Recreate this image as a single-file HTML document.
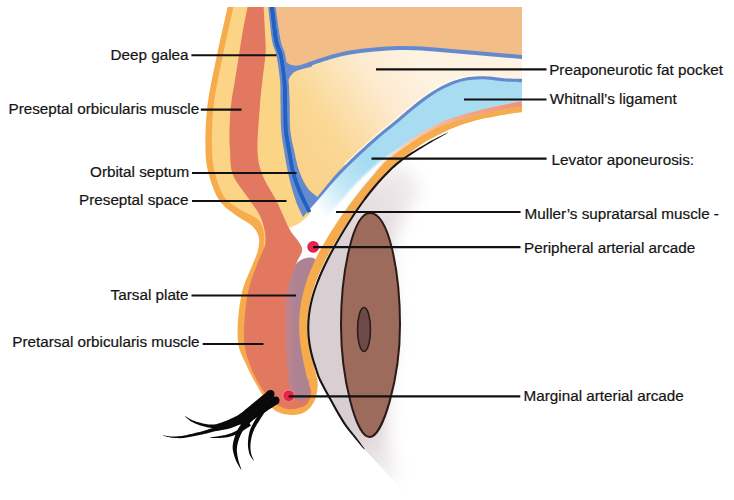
<!DOCTYPE html>
<html><head><meta charset="utf-8"><style>
html,body{margin:0;padding:0;background:#fff;width:734px;height:500px;overflow:hidden}
body{position:relative;font-family:"Liberation Sans",sans-serif}
text{font-family:"Liberation Sans",sans-serif;font-size:15.25px;fill:#141414;stroke:#141414;stroke-width:0.2px}
</style></head><body>
<svg width="734" height="500" viewBox="0 0 734 500" style="position:absolute;left:0;top:0">
<defs>
<clipPath id="cTop"><rect x="0" y="7" width="734" height="493"/></clipPath>
<linearGradient id="gFat" x1="300" y1="175" x2="430" y2="80" gradientUnits="userSpaceOnUse"><stop offset="0" stop-color="#FAD28A"/><stop offset="0.3" stop-color="#FAD793"/><stop offset="0.72" stop-color="#FDEBD0"/><stop offset="1" stop-color="#FEF2E2"/></linearGradient>
<linearGradient id="gWhit" x1="320" y1="215" x2="400" y2="145" gradientUnits="userSpaceOnUse"><stop offset="0" stop-color="#FFFFFF"/><stop offset="0.35" stop-color="#C2E7F5"/><stop offset="0.65" stop-color="#A6DCF1"/><stop offset="1" stop-color="#A8DCF1"/></linearGradient>
<linearGradient id="gEye" x1="305" y1="0" x2="440" y2="0" gradientUnits="userSpaceOnUse"><stop offset="0" stop-color="#D3CACE"/><stop offset="0.5" stop-color="#D9D1D5"/><stop offset="0.75" stop-color="#E9E4E6"/><stop offset="1" stop-color="#FFFFFF"/></linearGradient>
<linearGradient id="gEyeV" x1="430" y1="160" x2="340" y2="260" gradientUnits="userSpaceOnUse"><stop offset="0" stop-color="#F6F3F4"/><stop offset="1" stop-color="#D9CED2"/></linearGradient>
<linearGradient id="gPink" x1="522" y1="100" x2="380" y2="170" gradientUnits="userSpaceOnUse"><stop offset="0" stop-color="#F4906E"/><stop offset="0.4" stop-color="#F5A88C"/><stop offset="1" stop-color="#FBE2D6"/></linearGradient>
<linearGradient id="gFade" x1="350" y1="430" x2="395" y2="490" gradientUnits="userSpaceOnUse"><stop offset="0" stop-color="#FFFFFF" stop-opacity="0"/><stop offset="1" stop-color="#FFFFFF" stop-opacity="0.9"/></linearGradient>
<linearGradient id="gMauve" x1="283" y1="0" x2="297" y2="0" gradientUnits="userSpaceOnUse"><stop offset="0" stop-color="#D97C72"/><stop offset="0.5" stop-color="#B98590"/><stop offset="1" stop-color="#AD8293"/></linearGradient>
<filter id="fSoft3" x="-30%" y="-20%" width="160%" height="140%"><feGaussianBlur stdDeviation="2"/></filter>
<filter id="fSoft2" x="-20%" y="-20%" width="140%" height="140%"><feGaussianBlur stdDeviation="0.8"/></filter>
<filter id="fSoft" x="-20%" y="-20%" width="140%" height="140%"><feGaussianBlur stdDeviation="1.2"/></filter>
<filter id="fBlur" x="-50%" y="-50%" width="200%" height="200%"><feGaussianBlur stdDeviation="8"/></filter>
<clipPath id="cEye"><path d="M448.0 132.6 C444.7 134.4 435.7 138.8 428.0 143.4 C420.3 148.0 408.8 154.7 401.7 160.0 C394.6 165.3 390.2 170.0 385.2 175.0 C380.2 180.0 376.0 185.0 371.9 190.0 C367.8 195.0 364.1 200.0 360.5 205.0 C356.9 210.0 353.6 215.0 350.4 220.0 C347.2 225.0 344.1 230.0 341.1 235.0 C338.1 240.0 335.3 245.0 332.6 250.0 C329.9 255.0 327.3 260.0 324.9 265.0 C322.5 270.0 320.3 275.0 318.3 280.0 C316.3 285.0 314.5 290.0 313.1 295.0 C311.7 300.0 310.5 305.0 309.7 310.0 C308.9 315.0 308.4 320.0 308.3 325.0 C308.2 330.0 308.4 335.0 309.0 340.0 C309.6 345.0 310.6 350.0 311.8 355.0 C313.0 360.0 315.0 365.8 316.4 370.0 C317.8 374.2 317.7 375.0 320.1 380.0 C322.5 385.0 326.8 392.9 330.8 400.0 C334.8 407.1 339.8 416.4 344.0 422.8 C348.2 429.2 352.6 434.0 356.0 438.4 C359.4 442.8 363.0 447.4 364.4 449.2 L364.4 449.2 L405 492 L734 500 L734 112 L522 112 L460 124.3 Z"/></clipPath>
<radialGradient id="gDot" cx="0.5" cy="0.5" r="0.5"><stop offset="0" stop-color="#F02656"/><stop offset="0.7" stop-color="#EA2250"/><stop offset="1" stop-color="#D81A46"/></radialGradient>
</defs>
<g clip-path="url(#cTop)">
<path d="M229.2 0.0 C227.2 9.2 220.6 37.5 217.0 55.0 C213.4 72.5 209.4 89.2 207.5 105.0 C205.6 120.8 205.2 138.3 205.5 150.0 C205.8 161.7 206.8 166.7 209.0 175.0 C211.2 183.3 214.6 193.3 219.0 200.0 C223.4 206.7 230.2 210.8 235.5 215.0 C240.8 219.2 247.2 221.5 251.0 225.0 C254.8 228.5 257.3 231.8 258.5 236.0 C259.7 240.2 259.1 245.0 258.0 250.0 C256.9 255.0 254.6 259.3 252.0 266.0 C249.4 272.7 244.8 281.0 242.5 290.0 C240.2 299.0 238.7 310.8 238.0 320.0 C237.3 329.2 237.3 338.0 238.5 345.0 C239.7 352.0 242.2 355.7 245.0 362.0 C247.8 368.3 251.0 375.3 255.5 383.0 C260.0 390.7 266.4 402.7 272.0 408.0 C277.6 413.3 283.5 414.1 289.0 414.8 C294.5 415.5 300.8 414.3 305.0 412.0 C309.2 409.7 312.4 405.0 314.5 401.0 C316.6 397.0 317.1 391.5 317.6 388.0 C318.1 384.5 317.4 381.3 317.4 380.0 C316.9 378.3 315.8 374.2 314.7 370.0 C313.6 365.8 312.0 360.0 310.9 355.0 C309.8 350.0 308.8 345.0 308.2 340.0 C307.6 335.0 307.2 330.0 307.2 325.0 C307.2 320.0 307.6 315.0 308.3 310.0 C309.0 305.0 310.1 300.0 311.4 295.0 C312.7 290.0 314.4 285.0 316.3 280.0 C318.2 275.0 320.5 270.0 322.9 265.0 C325.3 260.0 327.9 255.0 330.6 250.0 C333.4 245.0 336.3 240.0 339.4 235.0 C342.5 230.0 345.7 225.0 349.0 220.0 C352.3 215.0 355.7 210.0 359.3 205.0 C362.9 200.0 366.8 195.0 370.9 190.0 C375.0 185.0 379.2 180.0 384.1 175.0 C389.0 170.0 395.0 164.5 400.3 160.0 C405.6 155.5 411.1 151.5 416.0 148.0 C420.9 144.5 425.2 141.9 430.0 139.1 C434.8 136.3 439.2 134.0 445.0 131.4 C450.8 128.8 458.3 125.8 465.0 123.6 C471.7 121.4 478.3 119.6 485.0 118.1 C491.7 116.6 498.8 115.4 505.0 114.4 C511.2 113.4 519.2 112.5 522.0 112.1 L522 0 Z" fill="#F6AC4C"/>
<path d="M235.0 0.0 C233.0 9.2 226.6 37.5 223.0 55.0 C219.4 72.5 215.5 89.2 213.7 105.0 C211.9 120.8 211.7 138.3 212.0 150.0 C212.3 161.7 213.3 167.0 215.5 175.0 C217.7 183.0 220.8 192.2 225.0 198.0 C229.2 203.8 235.4 206.3 241.0 210.0 C246.6 213.7 254.7 216.2 258.5 220.0 C262.3 223.8 263.1 228.0 264.0 233.0 C264.9 238.0 264.0 247.2 264.0 250.0 L300 262 L340 200 L522 0 Z" fill="#FBD485"/>
<path d="M310 214 C303 221 296 227 284 229 L282 300 L300 300  C303.4 292.0 305.4 284.5 307.1 279.5 C308.9 274.5 310.9 269.5 313.2 264.5 C315.4 259.5 317.9 254.5 320.6 249.5 C323.3 244.5 326.2 239.5 329.3 234.5 C332.4 229.5 335.6 224.5 339.0 219.5 C342.4 214.5 346.0 209.5 349.7 204.5 C353.4 199.5 359.4 192.0 361.3 189.5 L355 160 L320 200 Z" fill="#FFFFFF"/>
<path d="M270 0 L522 0 L522 57  C508.3 55.8 460.3 51.5 440.0 50.0 C419.7 48.5 415.0 47.6 400.0 48.0 C385.0 48.4 363.3 50.4 350.0 52.5 C336.7 54.6 328.3 58.0 320.0 60.5 C311.7 63.0 305.7 65.9 300.0 67.5 C294.3 69.1 288.3 69.6 286.0 70.0 L280 50 Z" fill="#F3BD88"/>
<path d="M286.0 70.0 C288.3 69.6 294.3 69.1 300.0 67.5 C305.7 65.9 311.7 63.0 320.0 60.5 C328.3 58.0 336.7 54.6 350.0 52.5 C363.3 50.4 385.0 48.4 400.0 48.0 C415.0 47.6 419.7 48.5 440.0 50.0 C460.3 51.5 508.3 55.8 522.0 57.0 L522 80.5  C519.3 80.5 511.3 80.4 506.0 80.0 C500.7 79.6 494.7 78.6 490.0 78.2 C485.3 77.8 482.0 77.7 478.0 77.8 C474.0 77.9 470.0 78.2 466.0 79.0 C462.0 79.8 458.0 80.8 454.0 82.3 C450.0 83.8 446.0 85.6 442.0 87.7 C438.0 89.8 434.0 92.2 430.0 94.9 C426.0 97.6 422.0 100.5 418.0 103.6 C414.0 106.7 410.0 110.1 406.0 113.5 C402.0 116.9 398.0 120.5 394.0 123.8 C390.0 127.1 386.0 130.1 382.0 133.4 C378.0 136.7 374.0 140.2 370.0 143.8 C366.0 147.4 362.0 151.0 358.0 154.8 C354.0 158.6 350.0 162.4 346.0 166.4 C342.0 170.4 338.0 174.5 334.0 179.0 C330.0 183.5 326.0 188.8 322.0 193.5 C318.0 198.2 312.0 204.8 310.0 207.0 L290 150 L284 64 Z" fill="url(#gFat)"/>
<path d="M310.0 207.0 C312.0 204.8 318.0 198.2 322.0 193.5 C326.0 188.8 330.0 183.5 334.0 179.0 C338.0 174.5 342.0 170.4 346.0 166.4 C350.0 162.4 354.0 158.6 358.0 154.8 C362.0 151.0 366.0 147.4 370.0 143.8 C374.0 140.2 378.0 136.7 382.0 133.4 C386.0 130.1 390.0 127.1 394.0 123.8 C398.0 120.5 402.0 116.9 406.0 113.5 C410.0 110.1 414.0 106.7 418.0 103.6 C422.0 100.5 426.0 97.6 430.0 94.9 C434.0 92.2 438.0 89.8 442.0 87.7 C446.0 85.6 450.0 83.8 454.0 82.3 C458.0 80.8 462.0 79.8 466.0 79.0 C470.0 78.2 474.0 77.9 478.0 77.8 C482.0 77.7 485.3 77.8 490.0 78.2 C494.7 78.6 500.7 79.6 506.0 80.0 C511.3 80.4 519.3 80.5 522.0 80.6 L522 106.2  C519.2 106.8 511.2 108.3 505.0 109.5 C498.8 110.7 491.7 111.9 485.0 113.4 C478.3 114.9 471.7 116.5 465.0 118.4 C458.3 120.3 450.8 122.4 445.0 124.6 C439.2 126.8 434.8 129.0 430.0 131.5 C425.2 134.0 423.0 134.8 416.0 139.5 C409.0 144.2 395.0 153.7 388.0 159.5 C381.0 165.3 378.4 169.5 374.0 174.5 C369.6 179.5 365.4 184.5 361.3 189.5 C357.2 194.5 353.4 199.5 349.7 204.5 C346.0 209.5 342.4 214.5 339.0 219.5 C335.6 224.5 332.4 229.5 329.3 234.5 C326.2 239.5 322.1 247.0 320.6 249.5 L310 225 Z" fill="url(#gWhit)"/>
<path d="M445.00 124.60 L444.27 124.93 L443.36 125.34 L442.28 125.81 L441.07 126.35 L439.76 126.93 L438.38 127.55 L436.94 128.20 L435.48 128.86 L434.03 129.54 L432.62 130.21 L431.26 130.86 L430.00 131.50 L428.84 132.09 L427.77 132.63 L426.76 133.14 L425.78 133.64 L424.80 134.15 L423.81 134.68 L422.78 135.26 L421.67 135.90 L420.46 136.63 L419.13 137.46 L417.65 138.41 L416.00 139.50 L414.11 140.76 L411.98 142.20 L409.66 143.77 L407.19 145.46 L404.62 147.24 L402.00 149.06 L399.38 150.91 L396.81 152.76 L394.34 154.57 L392.02 156.32 L389.89 157.97 L388.00 159.50 L386.34 160.93 L384.84 162.29 L383.49 163.60 L382.25 164.87 L381.11 166.10 L380.04 167.31 L379.03 168.50 L378.05 169.69 L377.08 170.87 L376.10 172.06 L375.08 173.27 L374.00 174.50 L372.89 175.75 L371.80 177.00 L370.71 178.25 L369.63 179.50 L368.56 180.75 L367.50 182.00 L366.45 183.25 L365.40 184.50 L364.37 185.75 L363.34 187.00 L362.32 188.25 L361.30 189.50 L360.29 190.75 L359.29 192.00 L358.30 193.25 L357.32 194.50 L356.34 195.75 L355.38 197.00 L354.41 198.25 L353.46 199.50 L352.51 200.75 L351.57 202.00 L350.63 203.25 L349.70 204.50 L348.77 205.75 L347.85 207.00 L346.94 208.25 L346.03 209.50 L345.13 210.75 L344.23 212.00 L343.34 213.25 L342.46 214.50 L341.58 215.75 L340.72 217.00 L339.85 218.25 L339.00 219.50 L338.15 220.75 L337.31 222.00 L336.48 223.25 L335.66 224.50 L334.84 225.75 L334.02 227.00 L333.22 228.25 L332.42 229.50 L331.63 230.75 L330.85 232.00 L330.07 233.25 L329.30 234.50 L328.51 235.80 L327.69 237.17 L326.85 238.60 L326.00 240.06 L325.16 241.51 L324.34 242.94 L323.56 244.31 L322.82 245.61 L322.14 246.80 L321.53 247.87 L321.02 248.78 L320.60 249.50 L307.60 242.02 L308.15 241.40 L308.79 240.61 L309.54 239.64 L310.36 238.52 L311.25 237.29 L312.20 235.98 L313.18 234.61 L314.18 233.20 L315.20 231.78 L316.22 230.38 L317.23 229.01 L318.21 227.72 L319.16 226.50 L320.10 225.29 L321.06 224.09 L322.01 222.88 L322.98 221.68 L323.95 220.48 L324.93 219.29 L325.91 218.09 L326.90 216.89 L327.89 215.70 L328.90 214.51 L329.90 213.31 L330.92 212.12 L331.94 210.93 L332.97 209.74 L334.01 208.56 L335.05 207.37 L336.09 206.19 L337.14 205.01 L338.20 203.83 L339.26 202.65 L340.33 201.48 L341.40 200.30 L342.48 199.13 L343.49 197.91 L344.51 196.69 L345.53 195.47 L346.56 194.25 L347.60 193.03 L348.65 191.81 L349.70 190.58 L350.76 189.36 L351.83 188.14 L352.90 186.91 L353.99 185.69 L355.08 184.47 L356.24 183.30 L357.41 182.14 L358.59 180.97 L359.77 179.81 L360.96 178.65 L362.15 177.48 L363.36 176.32 L364.57 175.16 L365.79 173.99 L367.03 172.83 L368.27 171.67 L369.49 170.54 L370.71 169.52 L371.88 168.53 L373.03 167.53 L374.20 166.50 L375.39 165.45 L376.64 164.37 L377.95 163.26 L379.35 162.12 L380.84 160.94 L382.45 159.74 L384.19 158.49 L386.08 157.19 L388.15 155.78 L390.45 154.26 L392.93 152.66 L395.54 151.01 L398.25 149.32 L400.99 147.63 L403.74 145.97 L406.43 144.36 L409.02 142.84 L411.47 141.44 L413.72 140.17 L415.72 139.08 L417.40 138.03 L418.91 137.11 L420.26 136.31 L421.50 135.62 L422.63 135.01 L423.69 134.46 L424.71 133.96 L425.70 133.49 L426.70 133.03 L427.73 132.56 L428.82 132.05 L430.00 131.50 L431.26 130.86 L432.62 130.21 L434.03 129.54 L435.48 128.86 L436.94 128.20 L438.38 127.55 L439.76 126.93 L441.07 126.35 L442.28 125.81 L443.36 125.34 L444.27 124.93 L445.00 124.60 Z" fill="#FFFFFF" filter="url(#fSoft)"/>
<path d="M522.00 106.20 L521.19 106.36 L520.19 106.55 L519.02 106.78 L517.70 107.03 L516.27 107.31 L514.75 107.61 L513.16 107.92 L511.52 108.23 L509.86 108.56 L508.20 108.88 L506.58 109.19 L505.00 109.50 L503.44 109.80 L501.84 110.10 L500.21 110.41 L498.56 110.71 L496.88 111.03 L495.19 111.34 L493.49 111.67 L491.78 112.00 L490.07 112.33 L488.37 112.68 L486.68 113.03 L485.00 113.40 L483.33 113.77 L481.67 114.16 L480.00 114.54 L478.33 114.94 L476.67 115.34 L475.00 115.76 L473.33 116.18 L471.67 116.60 L470.00 117.04 L468.33 117.48 L466.67 117.94 L465.00 118.40 L463.32 118.87 L461.61 119.36 L459.88 119.85 L458.15 120.35 L456.41 120.86 L454.69 121.38 L452.98 121.91 L451.30 122.44 L449.65 122.97 L448.04 123.51 L446.49 124.06 L445.00 124.60 L443.57 125.15 L442.20 125.70 L440.88 126.25 L439.59 126.81 L438.34 127.37 L437.12 127.94 L435.93 128.51 L434.74 129.09 L433.56 129.68 L432.38 130.28 L431.20 130.88 L430.00 131.50 L428.84 132.09 L427.77 132.63 L426.76 133.14 L425.78 133.64 L424.80 134.15 L423.81 134.68 L422.78 135.26 L421.67 135.90 L420.46 136.63 L419.13 137.46 L417.65 138.41 L416.00 139.50 L414.11 140.76 L411.98 142.20 L409.66 143.77 L407.19 145.46 L404.62 147.24 L402.00 149.06 L399.38 150.91 L396.81 152.76 L394.34 154.57 L392.02 156.32 L389.89 157.97 L388.00 159.50 L386.30 160.97 L384.69 162.46 L383.19 163.95 L381.78 165.43 L380.47 166.86 L379.25 168.25 L378.13 169.57 L377.11 170.80 L376.19 171.92 L375.36 172.93 L374.63 173.79 L374.00 174.50 L373.63 174.17 L374.16 173.38 L374.78 172.45 L375.51 171.37 L376.34 170.16 L377.27 168.84 L378.30 167.43 L379.44 165.95 L380.68 164.40 L382.03 162.81 L383.48 161.20 L385.05 159.58 L386.72 157.97 L388.59 156.34 L390.70 154.59 L393.00 152.76 L395.44 150.87 L397.98 148.95 L400.56 147.02 L403.14 145.11 L405.68 143.27 L408.11 141.50 L410.40 139.85 L412.49 138.34 L414.34 137.00 L416.01 135.88 L417.51 134.90 L418.87 134.03 L420.10 133.26 L421.25 132.58 L422.32 131.96 L423.35 131.39 L424.34 130.86 L425.33 130.33 L426.34 129.80 L427.40 129.25 L428.54 128.65 L429.72 127.99 L430.89 127.34 L432.06 126.69 L433.23 126.05 L434.42 125.41 L435.63 124.77 L436.87 124.14 L438.14 123.52 L439.44 122.89 L440.80 122.27 L442.20 121.66 L443.67 121.04 L445.21 120.46 L446.80 119.89 L448.44 119.32 L450.12 118.75 L451.82 118.20 L453.55 117.65 L455.30 117.11 L457.05 116.58 L458.79 116.05 L460.52 115.54 L462.24 115.04 L463.92 114.55 L465.60 114.04 L467.27 113.54 L468.95 113.05 L470.62 112.57 L472.30 112.10 L473.97 111.63 L475.65 111.18 L477.32 110.73 L479.00 110.29 L480.67 109.85 L482.35 109.43 L484.03 109.01 L485.73 108.61 L487.45 108.22 L489.17 107.85 L490.90 107.48 L492.62 107.12 L494.33 106.77 L496.02 106.43 L497.70 106.09 L499.35 105.76 L500.96 105.43 L502.54 105.11 L504.09 104.79 L505.66 104.47 L507.28 104.13 L508.93 103.79 L510.59 103.46 L512.23 103.12 L513.82 102.80 L515.34 102.48 L516.76 102.19 L518.07 101.92 L519.24 101.68 L520.24 101.47 L521.05 101.29 Z" fill="url(#gPink)"/>
<path d="M249.0 0.0 C248.0 5.0 244.7 20.8 243.0 30.0 C241.3 39.2 240.3 46.7 239.0 55.0 C237.7 63.3 236.3 71.7 235.0 80.0 C233.7 88.3 231.9 96.7 231.0 105.0 C230.1 113.3 229.7 122.5 229.5 130.0 C229.3 137.5 229.4 142.5 230.0 150.0 C230.6 157.5 229.7 166.7 233.0 175.0 C236.3 183.3 245.2 193.3 249.6 200.0 C254.0 206.7 257.0 210.0 259.5 215.0 C262.0 220.0 263.6 225.0 264.5 230.0 C265.4 235.0 266.1 239.7 265.0 245.0 C263.9 250.3 260.8 254.5 258.0 262.0 C255.2 269.5 250.8 280.3 248.5 290.0 C246.2 299.7 245.2 310.8 244.5 320.0 C243.8 329.2 243.6 337.5 244.5 345.0 C245.4 352.5 247.5 358.3 250.0 365.0 C252.5 371.7 255.8 379.0 259.5 385.0 C263.2 391.0 267.8 397.1 272.0 401.0 C276.2 404.9 281.2 407.2 285.0 408.5 C288.8 409.8 293.3 408.9 295.0 409.0 C296.8 408.3 303.3 407.3 306.0 405.0 C308.7 402.7 310.5 398.3 311.0 395.0 C311.5 391.7 311.5 390.8 309.0 385.0 C306.5 379.2 299.2 370.8 296.0 360.0 C292.8 349.2 290.7 333.3 290.0 320.0 C289.3 306.7 290.8 289.7 292.0 280.0 C293.2 270.3 295.3 267.3 297.0 262.0 C298.7 256.7 303.2 253.3 302.0 248.0 C300.8 242.7 293.2 235.5 290.0 230.0 C286.8 224.5 285.3 220.0 283.0 215.0 C280.7 210.0 279.4 206.7 276.0 200.0 C272.6 193.3 265.6 183.3 262.5 175.0 C259.4 166.7 257.9 161.7 257.5 150.0 C257.1 138.3 259.2 116.7 260.0 105.0 C260.8 93.3 261.6 88.3 262.5 80.0 C263.4 71.7 264.9 61.7 265.4 55.0 C265.9 48.3 265.8 49.2 265.4 40.0 C265.0 30.8 263.6 6.7 263.2 0.0 Z" fill="#E27860"/>
<path d="M309.0 257.5 C312.0 257.3 315.2 257.6 316.0 261.0 C316.8 264.4 315.5 272.3 314.0 278.0 C312.5 283.7 308.7 288.8 307.0 295.0 C305.3 301.2 304.5 306.7 304.0 315.0 C303.5 323.3 303.7 337.2 304.0 345.0 C304.3 352.8 305.2 355.5 306.0 362.0 C306.8 368.5 308.5 378.8 309.0 384.0 C309.5 389.2 310.0 390.2 309.0 393.0 C308.0 395.8 305.3 400.2 303.0 401.0 C300.7 401.8 297.3 400.7 295.0 398.0 C292.7 395.3 290.7 393.8 289.0 385.0 C287.3 376.2 285.8 355.8 285.0 345.0 C284.2 334.2 283.8 328.3 284.0 320.0 C284.2 311.7 284.7 302.7 286.0 295.0 C287.3 287.3 290.0 279.5 292.0 274.0 C294.0 268.5 295.2 264.8 298.0 262.0 C300.8 259.2 306.0 257.7 309.0 257.5 Z" fill="url(#gMauve)"/>
<path d="M317.4 380.0 C316.9 378.3 315.8 374.2 314.7 370.0 C313.6 365.8 312.0 360.0 310.9 355.0 C309.8 350.0 308.8 345.0 308.2 340.0 C307.6 335.0 307.2 330.0 307.2 325.0 C307.2 320.0 307.6 315.0 308.3 310.0 C309.0 305.0 310.1 300.0 311.4 295.0 C312.7 290.0 314.4 285.0 316.3 280.0 C318.2 275.0 320.5 270.0 322.9 265.0 C325.3 260.0 327.9 255.0 330.6 250.0 C333.4 245.0 336.3 240.0 339.4 235.0 C342.5 230.0 345.7 225.0 349.0 220.0 C352.3 215.0 355.7 210.0 359.3 205.0 C362.9 200.0 366.8 195.0 370.9 190.0 C375.0 185.0 379.2 180.0 384.1 175.0 C389.0 170.0 395.0 164.5 400.3 160.0 C405.6 155.5 411.1 151.5 416.0 148.0 C420.9 144.5 425.2 141.9 430.0 139.1 C434.8 136.3 439.2 134.0 445.0 131.4 C450.8 128.8 458.3 125.8 465.0 123.6 C471.7 121.4 478.3 119.6 485.0 118.1 C491.7 116.6 498.8 115.4 505.0 114.4 C511.2 113.4 519.2 112.5 522.0 112.1 L522 106.2  C519.2 106.8 511.2 108.3 505.0 109.5 C498.8 110.7 491.7 111.9 485.0 113.4 C478.3 114.9 471.7 116.5 465.0 118.4 C458.3 120.3 450.8 122.4 445.0 124.6 C439.2 126.8 434.8 129.0 430.0 131.5 C425.2 134.0 423.0 134.8 416.0 139.5 C409.0 144.2 395.0 153.7 388.0 159.5 C381.0 165.3 378.4 169.5 374.0 174.5 C369.6 179.5 365.4 184.5 361.3 189.5 C357.2 194.5 353.4 199.5 349.7 204.5 C346.0 209.5 342.4 214.5 339.0 219.5 C335.6 224.5 332.4 229.5 329.3 234.5 C326.2 239.5 323.3 244.5 320.6 249.5 C317.9 254.5 315.4 259.5 313.2 264.5 C310.9 269.5 308.9 274.5 307.1 279.5 C305.4 284.5 303.9 289.5 302.7 294.5 C301.5 299.5 300.6 304.5 300.0 309.5 C299.4 314.5 299.1 319.5 299.1 324.5 C299.1 329.5 299.3 334.5 299.8 339.5 C300.3 344.5 301.1 349.5 302.0 354.5 C302.9 359.5 304.2 365.3 305.1 369.5 C306.0 373.7 307.0 377.8 307.4 379.5 Z" fill="#F6AC4C"/>
<path d="M267.6 0.0 C268.3 6.7 270.5 30.8 272.0 40.0 C273.5 49.2 275.1 48.3 276.4 55.0 C277.7 61.7 279.3 72.2 280.0 80.0 C280.7 87.8 280.3 93.7 280.5 102.0 C280.7 110.3 280.6 122.0 281.2 130.0 C281.8 138.0 282.8 142.5 284.0 150.0 C285.2 157.5 286.6 166.7 288.5 175.0 C290.4 183.3 293.1 193.0 295.5 200.0 C297.9 207.0 301.8 214.2 303.0 217.0 C305.5 214.2 312.6 206.1 318.0 200.0 C323.4 193.9 330.3 185.5 335.2 180.1 C340.0 174.7 343.1 171.5 347.1 167.5 C351.1 163.5 355.1 159.7 359.1 156.0 C363.1 152.2 367.1 148.6 371.1 145.0 C375.1 141.4 379.0 138.0 383.0 134.6 C387.0 131.3 391.0 128.3 395.0 125.0 C399.0 121.7 403.0 118.1 407.0 114.7 C411.0 111.4 415.0 107.9 419.0 104.9 C423.0 101.8 426.9 98.9 430.9 96.2 C434.8 93.6 438.8 91.2 442.7 89.1 C446.7 87.0 450.6 85.2 454.5 83.8 C458.5 82.4 462.4 81.3 466.3 80.6 C470.2 79.8 474.1 79.5 478.1 79.4 C482.0 79.3 485.2 79.4 489.9 79.8 C494.5 80.2 500.5 81.2 505.9 81.6 C511.2 82.0 519.3 82.1 521.9 82.2 L522 78.7  C519.4 78.9 511.4 78.8 506.1 78.4 C500.8 78.0 494.8 77.0 490.1 76.6 C485.4 76.2 482.0 76.1 477.9 76.2 C473.9 76.3 469.8 76.7 465.7 77.4 C461.6 78.2 457.5 79.3 453.5 80.8 C449.4 82.3 445.3 84.2 441.3 86.3 C437.2 88.4 433.2 90.9 429.1 93.6 C425.1 96.2 421.0 99.2 417.0 102.3 C413.0 105.5 409.0 108.9 405.0 112.3 C401.0 115.6 397.0 119.3 393.0 122.6 C389.0 125.9 385.0 128.8 381.0 132.2 C377.0 135.5 372.9 139.0 368.9 142.6 C364.9 146.2 360.9 149.9 356.9 153.6 C352.9 157.4 348.9 161.2 344.9 165.3 C340.9 169.3 337.4 172.6 332.8 177.9 C328.3 183.2 320.0 193.8 317.4 197.0 C315.8 195.5 310.5 192.2 307.5 188.0 C304.5 183.8 301.8 178.3 299.5 172.0 C297.2 165.7 295.5 157.0 294.0 150.0 C292.5 143.0 291.0 138.0 290.3 130.0 C289.6 122.0 289.9 110.3 289.6 102.0 C289.3 93.7 289.2 87.8 288.5 80.0 C287.8 72.2 286.5 61.7 285.2 55.0 C283.9 48.3 282.3 49.2 280.5 40.0 C278.7 30.8 275.6 6.7 274.6 0.0 Z" fill="#6489CE"/>
<path d="M271.2 0.0 C272.0 6.7 274.4 30.8 276.0 40.0 C277.6 49.2 279.4 48.3 280.8 55.0 C282.2 61.7 283.6 72.2 284.3 80.0 C285.0 87.8 284.9 93.7 285.1 102.0 C285.4 110.3 285.2 122.0 285.8 130.0 C286.4 138.0 287.8 143.0 289.0 150.0 C290.2 157.0 291.2 165.0 293.0 172.0 C294.8 179.0 297.2 185.3 300.0 192.0 C302.8 198.7 307.9 208.7 309.5 212.0" fill="none" stroke="#2161C0" stroke-width="3.5"/>
<path d="M344.4 164.7 C346.4 162.8 352.4 156.9 356.4 153.1 C360.4 149.3 364.5 145.7 368.5 142.1 C372.5 138.5 376.5 135.0 380.5 131.6 C384.5 128.3 388.5 125.3 392.5 122.0 C396.5 118.7 400.5 115.1 404.5 111.7 C408.5 108.4 412.6 104.9 416.6 101.8 C420.6 98.7 424.7 95.7 428.7 93.0 C432.8 90.3 436.8 87.8 440.9 85.7 C445.0 83.5 449.1 81.6 453.2 80.1 C457.3 78.7 461.5 77.5 465.6 76.7 C469.7 76.0 475.7 75.7 477.8 75.5" fill="none" stroke="#FFFBF2" stroke-width="1.3" stroke-opacity="0.85"/>
<path d="M286.0 70.0 C288.3 69.6 294.3 69.1 300.0 67.5 C305.7 65.9 311.7 63.0 320.0 60.5 C328.3 58.0 336.7 54.6 350.0 52.5 C363.3 50.4 385.0 48.4 400.0 48.0 C415.0 47.6 419.7 48.5 440.0 50.0 C460.3 51.5 508.3 55.8 522.0 57.0" fill="none" stroke="#6489CE" stroke-width="4"/>
<path d="M282 55 C285 63 290 66.5 300 65.6 L312 63 L312 66.5 L300 69.5 C294 71 289.5 75 287 84 Z" fill="#6489CE"/>
<path d="M271.2 0.0 C272.0 6.7 274.4 30.8 276.0 40.0 C277.6 49.2 280.0 52.5 280.8 55.0" fill="none" stroke="#2161C0" stroke-width="3.5"/>
<path d="M271.2 0.0 C272.0 6.7 274.4 30.8 276.0 40.0 C277.6 49.2 279.4 48.3 280.8 55.0 C282.2 61.7 283.6 72.2 284.3 80.0 C285.0 87.8 284.9 93.7 285.1 102.0 C285.4 110.3 285.2 122.0 285.8 130.0 C286.4 138.0 287.8 143.0 289.0 150.0 C290.2 157.0 291.2 165.0 293.0 172.0 C294.8 179.0 297.2 185.3 300.0 192.0 C302.8 198.7 307.9 208.7 309.5 212.0" fill="none" stroke="#2161C0" stroke-width="3.5"/>
</g>
<g clip-path="url(#cEye)">
<path d="M398 160 L330 205 L285 300 L290 430 L350 452 L385 492 L400 482 L388 440 L386 405 L394 330 L390 260 L398 228 L422 188 Z" fill="url(#gEyeV)" filter="url(#fBlur)"/>
<rect x="300" y="400" width="200" height="100" fill="url(#gFade)"/>
</g>
<path d="M447.91 132.42 L446.94 132.88 L445.76 133.44 L444.39 134.09 L442.86 134.83 L441.20 135.64 L439.41 136.52 L437.53 137.46 L435.59 138.44 L433.60 139.47 L431.59 140.53 L429.58 141.61 L427.59 142.71 L425.58 143.88 L423.44 145.13 L421.20 146.44 L418.88 147.81 L416.52 149.21 L414.14 150.65 L411.78 152.10 L409.45 153.56 L407.19 155.00 L405.02 156.42 L402.98 157.81 L401.08 159.15 L399.33 160.48 L397.69 161.78 L396.13 163.06 L394.66 164.33 L393.26 165.59 L391.92 166.84 L390.62 168.08 L389.36 169.31 L388.13 170.55 L386.90 171.78 L385.68 173.02 L384.45 174.26 L383.22 175.52 L382.01 176.78 L380.84 178.04 L379.68 179.29 L378.55 180.55 L377.44 181.81 L376.35 183.06 L375.27 184.32 L374.21 185.57 L373.16 186.83 L372.12 188.08 L371.09 189.33 L370.06 190.59 L369.05 191.85 L368.06 193.10 L367.08 194.36 L366.12 195.61 L365.16 196.87 L364.22 198.12 L363.29 199.38 L362.37 200.63 L361.45 201.88 L360.55 203.14 L359.65 204.39 L358.75 205.64 L357.87 206.90 L357.00 208.15 L356.14 209.41 L355.29 210.66 L354.45 211.92 L353.61 213.17 L352.78 214.42 L351.96 215.67 L351.14 216.93 L350.33 218.18 L349.52 219.43 L348.71 220.68 L347.91 221.94 L347.11 223.19 L346.32 224.44 L345.54 225.69 L344.76 226.95 L343.98 228.20 L343.22 229.45 L342.45 230.71 L341.69 231.96 L340.94 233.21 L340.20 234.46 L339.46 235.72 L338.72 236.97 L337.99 238.22 L337.27 239.48 L336.55 240.73 L335.84 241.98 L335.13 243.24 L334.43 244.49 L333.73 245.74 L333.04 246.99 L332.36 248.25 L331.68 249.50 L331.00 250.75 L330.33 252.01 L329.67 253.26 L329.00 254.51 L328.35 255.76 L327.70 257.02 L327.05 258.27 L326.42 259.53 L325.79 260.78 L325.17 262.04 L324.56 263.29 L323.95 264.55 L323.36 265.80 L322.77 267.06 L322.19 268.31 L321.61 269.56 L321.04 270.82 L320.48 272.08 L319.93 273.33 L319.39 274.59 L318.86 275.84 L318.34 277.10 L317.82 278.36 L317.32 279.61 L316.83 280.87 L316.35 282.13 L315.88 283.38 L315.41 284.64 L314.95 285.90 L314.51 287.15 L314.07 288.41 L313.65 289.67 L313.24 290.93 L312.84 292.19 L312.46 293.45 L312.09 294.71 L311.74 295.97 L311.39 297.23 L311.06 298.49 L310.74 299.75 L310.43 301.01 L310.14 302.27 L309.86 303.53 L309.59 304.79 L309.34 306.05 L309.10 307.31 L308.87 308.57 L308.66 309.83 L308.47 311.09 L308.29 312.36 L308.12 313.62 L307.96 314.88 L307.82 316.14 L307.70 317.40 L307.59 318.66 L307.49 319.93 L307.41 321.19 L307.34 322.45 L307.29 323.71 L307.25 324.98 L307.23 326.24 L307.22 327.50 L307.23 328.76 L307.25 330.02 L307.29 331.29 L307.34 332.55 L307.40 333.81 L307.49 335.07 L307.58 336.34 L307.69 337.60 L307.82 338.86 L307.96 340.12 L308.11 341.39 L308.28 342.65 L308.47 343.91 L308.68 345.17 L308.89 346.43 L309.12 347.70 L309.37 348.96 L309.63 350.22 L309.90 351.48 L310.18 352.73 L310.48 353.99 L310.78 355.25 L311.11 356.53 L311.46 357.84 L311.84 359.16 L312.23 360.49 L312.63 361.81 L313.04 363.13 L313.46 364.43 L313.87 365.70 L314.27 366.93 L314.67 368.12 L315.05 369.26 L315.40 370.33 L315.72 371.30 L315.98 372.15 L316.22 372.92 L316.44 373.64 L316.65 374.33 L316.87 375.02 L317.12 375.73 L317.40 376.49 L317.73 377.32 L318.13 378.24 L318.60 379.27 L319.15 380.45 L319.80 381.77 L320.51 383.20 L321.29 384.71 L322.13 386.31 L323.01 387.98 L323.93 389.70 L324.89 391.46 L325.87 393.26 L326.87 395.08 L327.87 396.90 L328.88 398.71 L329.88 400.51 L330.90 402.34 L331.95 404.23 L333.03 406.18 L334.14 408.17 L335.27 410.18 L336.41 412.19 L337.55 414.19 L338.69 416.16 L339.82 418.08 L340.95 419.93 L342.05 421.70 L343.12 423.38 L344.19 424.96 L345.27 426.47 L346.35 427.93 L347.42 429.33 L348.48 430.68 L349.52 431.98 L350.55 433.23 L351.55 434.45 L352.53 435.62 L353.47 436.77 L354.38 437.89 L355.25 438.98 L356.14 440.05 L357.04 441.12 L357.93 442.17 L358.80 443.21 L359.64 444.20 L360.46 445.16 L361.23 446.06 L361.95 446.90 L362.61 447.66 L363.21 448.33 L363.73 448.91 L364.16 449.38 L364.64 449.02 L364.28 448.48 L363.85 447.83 L363.34 447.09 L362.76 446.26 L362.13 445.36 L361.44 444.39 L360.72 443.37 L359.96 442.31 L359.17 441.21 L358.37 440.09 L357.56 438.95 L356.75 437.82 L355.88 436.70 L354.97 435.55 L354.04 434.39 L353.07 433.20 L352.09 431.98 L351.08 430.72 L350.06 429.43 L349.03 428.09 L347.99 426.71 L346.95 425.27 L345.91 423.78 L344.88 422.22 L343.82 420.58 L342.74 418.84 L341.63 417.00 L340.50 415.10 L339.37 413.14 L338.23 411.16 L337.10 409.15 L335.98 407.15 L334.87 405.16 L333.79 403.21 L332.73 401.31 L331.72 399.49 L330.72 397.69 L329.71 395.88 L328.70 394.06 L327.71 392.25 L326.73 390.46 L325.78 388.70 L324.86 386.99 L323.98 385.33 L323.16 383.75 L322.39 382.25 L321.68 380.84 L321.05 379.55 L320.50 378.39 L320.05 377.39 L319.67 376.51 L319.36 375.73 L319.10 375.02 L318.86 374.35 L318.65 373.70 L318.44 373.03 L318.23 372.31 L317.99 371.53 L317.72 370.66 L317.40 369.67 L317.04 368.59 L316.66 367.46 L316.27 366.27 L315.86 365.04 L315.46 363.78 L315.05 362.50 L314.64 361.19 L314.24 359.88 L313.85 358.58 L313.48 357.28 L313.14 356.00 L312.82 354.75 L312.52 353.51 L312.23 352.27 L311.95 351.02 L311.68 349.78 L311.43 348.54 L311.19 347.30 L310.96 346.07 L310.75 344.83 L310.55 343.59 L310.36 342.35 L310.20 341.11 L310.04 339.88 L309.91 338.64 L309.78 337.40 L309.67 336.16 L309.58 334.93 L309.50 333.69 L309.44 332.45 L309.39 331.21 L309.35 329.98 L309.33 328.74 L309.32 327.50 L309.33 326.26 L309.35 325.02 L309.39 323.79 L309.44 322.55 L309.50 321.31 L309.58 320.07 L309.68 318.84 L309.79 317.60 L309.91 316.36 L310.05 315.12 L310.20 313.88 L310.37 312.64 L310.55 311.41 L310.74 310.17 L310.94 308.93 L311.16 307.69 L311.40 306.45 L311.65 305.21 L311.91 303.97 L312.19 302.73 L312.48 301.49 L312.78 300.25 L313.09 299.01 L313.42 297.77 L313.76 296.53 L314.11 295.29 L314.47 294.05 L314.85 292.81 L315.24 291.57 L315.64 290.33 L316.06 289.09 L316.49 287.85 L316.93 286.60 L317.38 285.36 L317.84 284.12 L318.31 282.87 L318.79 281.63 L319.28 280.39 L319.77 279.14 L320.28 277.90 L320.79 276.66 L321.32 275.41 L321.86 274.17 L322.40 272.92 L322.96 271.68 L323.52 270.44 L324.09 269.19 L324.67 267.94 L325.26 266.70 L325.85 265.45 L326.45 264.21 L327.05 262.96 L327.67 261.72 L328.29 260.47 L328.93 259.23 L329.56 257.98 L330.21 256.74 L330.86 255.49 L331.52 254.24 L332.18 252.99 L332.85 251.75 L333.52 250.50 L334.20 249.25 L334.88 248.01 L335.57 246.76 L336.26 245.51 L336.96 244.26 L337.66 243.02 L338.37 241.77 L339.09 240.52 L339.81 239.28 L340.53 238.03 L341.27 236.78 L342.00 235.54 L342.75 234.29 L343.49 233.04 L344.25 231.79 L345.01 230.55 L345.77 229.30 L346.54 228.05 L347.32 226.81 L348.10 225.56 L348.89 224.31 L349.68 223.06 L350.48 221.82 L351.28 220.57 L352.09 219.32 L352.90 218.07 L353.72 216.83 L354.54 215.58 L355.36 214.33 L356.19 213.08 L357.03 211.84 L357.87 210.59 L358.73 209.35 L359.59 208.10 L360.47 206.86 L361.35 205.61 L362.25 204.36 L363.15 203.12 L364.06 201.87 L364.98 200.62 L365.90 199.38 L366.84 198.13 L367.78 196.89 L368.74 195.64 L369.71 194.40 L370.70 193.15 L371.70 191.91 L372.71 190.67 L373.74 189.42 L374.78 188.17 L375.82 186.93 L376.87 185.68 L377.94 184.44 L379.02 183.19 L380.12 181.95 L381.24 180.71 L382.38 179.46 L383.54 178.22 L384.73 176.98 L385.95 175.74 L387.18 174.49 L388.40 173.26 L389.61 172.03 L390.84 170.81 L392.08 169.59 L393.36 168.36 L394.68 167.14 L396.05 165.91 L397.49 164.66 L399.01 163.41 L400.61 162.14 L402.32 160.85 L404.16 159.50 L406.16 158.09 L408.28 156.65 L410.50 155.18 L412.79 153.70 L415.12 152.22 L417.46 150.76 L419.79 149.32 L422.08 147.92 L424.30 146.57 L426.42 145.29 L428.41 144.09 L430.32 142.91 L432.27 141.75 L434.22 140.61 L436.16 139.50 L438.05 138.43 L439.88 137.40 L441.61 136.44 L443.23 135.54 L444.72 134.72 L446.04 133.97 L447.17 133.32 L448.09 132.78 Z" fill="#1A1414"/>
<path d="M370 213 C353 213 341 272 341 325 C341 378 356 437 369.5 437 C383 437 400 378 400 325 C400 272 389 213 370 213 Z" fill="#9C6B5B" stroke="#2A1A18" stroke-width="2"/>
<ellipse cx="364" cy="329.5" rx="6.5" ry="22" fill="#6B4A49" stroke="#2A1A18" stroke-width="1.5"/>
<circle cx="313.2" cy="246.8" r="5.9" fill="url(#gDot)"/>
<circle cx="288.7" cy="395.8" r="7" fill="#F07C7C" opacity="0.55"/><circle cx="288.7" cy="395.8" r="5.1" fill="url(#gDot)"/>
<path d="M268.00 390.88 L267.41 391.38 L266.66 392.00 L265.80 392.73 L264.82 393.54 L263.76 394.42 L262.64 395.35 L261.47 396.32 L260.27 397.30 L259.08 398.28 L257.90 399.25 L256.76 400.18 L255.68 401.05 L254.64 401.92 L253.57 402.81 L252.49 403.71 L251.39 404.62 L250.30 405.52 L249.20 406.42 L248.12 407.30 L247.05 408.17 L246.01 409.02 L244.99 409.84 L244.01 410.63 L243.07 411.38 L242.16 412.13 L241.22 412.88 L240.29 413.62 L239.35 414.36 L238.44 415.07 L237.55 415.76 L236.71 416.41 L235.93 417.03 L235.21 417.59 L234.57 418.11 L234.02 418.56 L233.57 418.95 L236.43 423.05 L236.93 422.78 L237.54 422.44 L238.24 422.03 L239.03 421.57 L239.90 421.05 L240.82 420.49 L241.79 419.90 L242.79 419.27 L243.82 418.63 L244.86 417.96 L245.90 417.29 L246.93 416.62 L247.95 415.91 L249.01 415.17 L250.09 414.40 L251.20 413.60 L252.34 412.79 L253.48 411.96 L254.64 411.12 L255.79 410.27 L256.94 409.43 L258.09 408.59 L259.21 407.76 L260.32 406.95 L261.44 406.09 L262.61 405.19 L263.83 404.25 L265.06 403.29 L266.29 402.33 L267.49 401.40 L268.65 400.49 L269.73 399.64 L270.74 398.86 L271.63 398.17 L272.39 397.59 L273.00 397.12 Z" fill="#0A0A0A"/>
<path d="M273.24 397.20 L272.64 397.63 L271.90 398.17 L271.03 398.80 L270.05 399.50 L268.99 400.26 L267.87 401.06 L266.70 401.88 L265.51 402.72 L264.32 403.55 L263.15 404.36 L262.03 405.13 L260.96 405.85 L259.95 406.57 L258.92 407.29 L257.86 408.02 L256.78 408.75 L255.69 409.47 L254.61 410.20 L253.52 410.92 L252.45 411.65 L251.39 412.36 L250.35 413.08 L249.34 413.78 L248.36 414.49 L247.39 415.18 L246.40 415.89 L245.42 416.62 L244.45 417.35 L243.50 418.06 L242.59 418.76 L241.73 419.43 L240.92 420.06 L240.19 420.63 L239.55 421.15 L239.00 421.59 L238.56 421.96 L241.44 426.04 L241.95 425.74 L242.56 425.35 L243.26 424.90 L244.04 424.39 L244.88 423.83 L245.78 423.24 L246.73 422.62 L247.70 421.99 L248.69 421.35 L249.68 420.72 L250.67 420.10 L251.64 419.51 L252.62 418.96 L253.65 418.38 L254.71 417.80 L255.81 417.21 L256.94 416.60 L258.08 415.99 L259.24 415.36 L260.41 414.73 L261.57 414.10 L262.74 413.45 L263.90 412.80 L265.04 412.15 L266.17 411.43 L267.36 410.67 L268.58 409.87 L269.82 409.06 L271.05 408.24 L272.26 407.44 L273.41 406.67 L274.50 405.94 L275.51 405.28 L276.39 404.69 L277.15 404.19 L277.76 403.80 Z" fill="#0A0A0A"/>
<path d="M271.05 395.96 L270.45 396.34 L269.71 396.81 L268.85 397.38 L267.88 398.01 L266.83 398.71 L265.72 399.45 L264.56 400.22 L263.38 401.00 L262.19 401.79 L261.02 402.57 L259.87 403.33 L258.78 404.04 L257.73 404.78 L256.64 405.53 L255.54 406.30 L254.42 407.07 L253.30 407.85 L252.17 408.62 L251.05 409.40 L249.94 410.16 L248.86 410.91 L247.80 411.64 L246.77 412.35 L245.79 413.04 L244.84 413.75 L243.87 414.47 L242.91 415.20 L241.95 415.92 L241.01 416.63 L240.11 417.31 L239.25 417.96 L238.45 418.58 L237.72 419.14 L237.07 419.65 L236.51 420.09 L236.07 420.45 L238.93 424.55 L239.43 424.25 L240.04 423.88 L240.73 423.44 L241.51 422.94 L242.36 422.40 L243.27 421.81 L244.22 421.20 L245.20 420.56 L246.20 419.91 L247.21 419.25 L248.22 418.60 L249.21 417.96 L250.19 417.28 L251.21 416.58 L252.27 415.85 L253.35 415.10 L254.46 414.34 L255.58 413.56 L256.71 412.78 L257.84 412.00 L258.96 411.23 L260.07 410.46 L261.16 409.70 L262.22 408.96 L263.27 408.17 L264.38 407.34 L265.51 406.49 L266.66 405.63 L267.79 404.77 L268.90 403.93 L269.97 403.12 L270.97 402.36 L271.89 401.65 L272.70 401.02 L273.40 400.48 L273.95 400.04 Z" fill="#0A0A0A"/>
<path d="M248.76 410.27 L248.29 410.50 L247.73 410.79 L247.08 411.11 L246.35 411.47 L245.56 411.85 L244.72 412.27 L243.82 412.70 L242.88 413.15 L241.92 413.60 L240.93 414.06 L239.93 414.52 L238.92 414.97 L237.88 415.46 L236.75 415.99 L235.57 416.54 L234.34 417.11 L233.08 417.69 L231.81 418.27 L230.54 418.84 L229.28 419.40 L228.05 419.93 L226.86 420.44 L225.74 420.90 L224.68 421.32 L223.66 421.71 L222.69 422.08 L221.76 422.43 L220.87 422.76 L220.02 423.06 L219.19 423.34 L218.38 423.60 L217.59 423.82 L216.80 424.02 L216.00 424.20 L215.20 424.34 L214.37 424.45 L213.53 424.53 L212.69 424.58 L211.84 424.59 L210.98 424.58 L210.12 424.53 L209.25 424.47 L208.37 424.38 L207.48 424.27 L206.59 424.14 L205.70 424.00 L204.80 423.85 L203.90 423.68 L203.00 423.51 L202.08 423.31 L201.14 423.09 L200.20 422.85 L199.25 422.60 L198.31 422.32 L197.38 422.04 L196.47 421.74 L195.57 421.43 L194.71 421.12 L193.88 420.80 L193.09 420.49 L192.31 420.17 L191.53 419.81 L190.74 419.42 L189.96 419.00 L189.20 418.57 L188.47 418.14 L187.77 417.72 L187.11 417.32 L186.51 416.96 L185.96 416.64 L185.48 416.37 L185.08 416.18 L184.92 416.42 L185.24 416.72 L185.64 417.08 L186.11 417.50 L186.64 417.97 L187.23 418.47 L187.87 419.00 L188.55 419.54 L189.26 420.09 L190.00 420.63 L190.76 421.16 L191.53 421.65 L192.31 422.11 L193.12 422.52 L193.95 422.92 L194.83 423.32 L195.73 423.70 L196.65 424.08 L197.59 424.45 L198.54 424.81 L199.50 425.15 L200.46 425.47 L201.42 425.77 L202.37 426.06 L203.30 426.32 L204.22 426.55 L205.13 426.78 L206.06 426.99 L206.98 427.20 L207.92 427.38 L208.85 427.54 L209.80 427.69 L210.75 427.80 L211.71 427.89 L212.68 427.94 L213.65 427.96 L214.63 427.95 L215.60 427.89 L216.55 427.81 L217.48 427.68 L218.41 427.53 L219.33 427.35 L220.25 427.15 L221.17 426.92 L222.11 426.67 L223.07 426.39 L224.05 426.11 L225.06 425.80 L226.12 425.48 L227.26 425.12 L228.48 424.72 L229.75 424.29 L231.05 423.82 L232.37 423.34 L233.70 422.84 L235.03 422.34 L236.33 421.84 L237.61 421.35 L238.83 420.88 L239.99 420.44 L241.08 420.03 L242.12 419.61 L243.17 419.17 L244.20 418.74 L245.21 418.31 L246.18 417.90 L247.11 417.50 L247.99 417.12 L248.80 416.76 L249.54 416.44 L250.20 416.16 L250.77 415.92 L251.24 415.73 Z" fill="#0A0A0A"/>
<path d="M246.96 415.73 L246.08 416.15 L244.96 416.70 L243.66 417.34 L242.20 418.06 L240.63 418.83 L238.97 419.63 L237.26 420.44 L235.53 421.24 L233.84 422.00 L232.20 422.71 L230.66 423.34 L229.27 423.87 L227.96 424.33 L226.64 424.73 L225.33 425.10 L224.02 425.44 L222.71 425.74 L221.42 426.02 L220.13 426.29 L218.87 426.55 L217.63 426.81 L216.40 427.08 L215.21 427.36 L214.05 427.65 L212.96 427.95 L211.94 428.25 L210.97 428.54 L210.04 428.82 L209.14 429.10 L208.27 429.38 L207.43 429.65 L206.59 429.92 L205.76 430.18 L204.93 430.44 L204.08 430.70 L203.21 430.95 L202.31 431.19 L201.41 431.44 L200.52 431.68 L199.62 431.91 L198.72 432.15 L197.82 432.37 L196.92 432.60 L196.02 432.82 L195.12 433.04 L194.23 433.26 L193.33 433.47 L192.42 433.68 L191.52 433.89 L190.61 434.11 L189.70 434.32 L188.80 434.54 L187.90 434.75 L187.01 434.96 L186.12 435.15 L185.23 435.33 L184.34 435.50 L183.46 435.66 L182.58 435.79 L181.70 435.90 L180.81 436.02 L179.90 436.13 L178.97 436.22 L178.05 436.29 L177.11 436.35 L176.18 436.40 L175.26 436.44 L174.36 436.46 L173.46 436.47 L172.60 436.48 L171.76 436.47 L170.95 436.45 L170.16 436.40 L169.35 436.33 L168.55 436.23 L167.74 436.12 L166.96 435.99 L166.20 435.86 L165.47 435.73 L164.79 435.60 L164.17 435.48 L163.61 435.38 L163.13 435.30 L162.73 435.25 L162.67 435.55 L163.05 435.66 L163.51 435.80 L164.05 435.97 L164.66 436.15 L165.33 436.34 L166.04 436.54 L166.80 436.74 L167.58 436.93 L168.39 437.12 L169.21 437.29 L170.03 437.43 L170.85 437.55 L171.67 437.66 L172.52 437.76 L173.41 437.85 L174.31 437.93 L175.24 437.99 L176.18 438.05 L177.13 438.09 L178.09 438.12 L179.05 438.14 L180.01 438.14 L180.96 438.13 L181.90 438.10 L182.84 438.02 L183.77 437.92 L184.71 437.80 L185.64 437.67 L186.57 437.52 L187.49 437.36 L188.41 437.19 L189.33 437.02 L190.25 436.84 L191.16 436.66 L192.07 436.49 L192.98 436.32 L193.89 436.15 L194.81 435.98 L195.73 435.80 L196.64 435.62 L197.56 435.44 L198.48 435.25 L199.40 435.06 L200.32 434.86 L201.23 434.67 L202.15 434.47 L203.07 434.26 L203.99 434.05 L204.91 433.84 L205.80 433.63 L206.67 433.41 L207.53 433.19 L208.39 432.97 L209.25 432.74 L210.12 432.52 L211.02 432.29 L211.94 432.06 L212.89 431.82 L213.90 431.59 L214.95 431.35 L216.04 431.12 L217.17 430.92 L218.36 430.72 L219.60 430.52 L220.88 430.32 L222.20 430.10 L223.55 429.86 L224.94 429.60 L226.35 429.30 L227.79 428.96 L229.25 428.57 L230.73 428.13 L232.28 427.59 L233.93 426.96 L235.66 426.25 L237.43 425.50 L239.21 424.72 L240.97 423.94 L242.67 423.16 L244.28 422.42 L245.75 421.74 L247.06 421.14 L248.17 420.65 L249.04 420.27 Z" fill="#0A0A0A"/>
<path d="M249.04 422.54 L248.55 422.87 L247.93 423.29 L247.22 423.79 L246.42 424.34 L245.55 424.94 L244.63 425.56 L243.68 426.20 L242.73 426.84 L241.78 427.46 L240.86 428.05 L239.99 428.59 L239.18 429.07 L238.41 429.52 L237.65 429.96 L236.91 430.39 L236.18 430.80 L235.46 431.19 L234.75 431.56 L234.04 431.92 L233.32 432.27 L232.60 432.59 L231.87 432.90 L231.11 433.20 L230.34 433.47 L229.55 433.76 L228.72 434.03 L227.88 434.28 L227.01 434.52 L226.12 434.75 L225.23 434.96 L224.33 435.16 L223.42 435.34 L222.52 435.52 L221.62 435.69 L220.74 435.85 L219.88 436.01 L219.01 436.18 L218.10 436.34 L217.15 436.48 L216.19 436.62 L215.24 436.74 L214.30 436.86 L213.40 436.96 L212.55 437.07 L211.77 437.17 L211.07 437.26 L210.47 437.36 L209.99 437.45 L210.01 437.75 L210.49 437.80 L211.09 437.84 L211.79 437.89 L212.58 437.93 L213.44 437.97 L214.35 438.01 L215.30 438.03 L216.28 438.05 L217.27 438.05 L218.25 438.05 L219.20 438.03 L220.12 437.99 L221.01 437.92 L221.92 437.84 L222.84 437.75 L223.78 437.65 L224.72 437.54 L225.67 437.42 L226.62 437.28 L227.57 437.13 L228.51 436.96 L229.44 436.77 L230.36 436.56 L231.26 436.33 L232.13 436.05 L232.97 435.75 L233.79 435.43 L234.59 435.10 L235.37 434.75 L236.15 434.39 L236.92 434.01 L237.69 433.62 L238.46 433.22 L239.23 432.80 L240.02 432.37 L240.82 431.93 L241.69 431.43 L242.61 430.88 L243.58 430.28 L244.56 429.66 L245.55 429.02 L246.52 428.39 L247.45 427.77 L248.34 427.19 L249.15 426.65 L249.87 426.17 L250.48 425.77 L250.96 425.46 Z" fill="#0A0A0A"/>
<path d="M254.03 411.73 L253.63 412.11 L253.10 412.58 L252.47 413.14 L251.75 413.77 L250.95 414.46 L250.11 415.20 L249.23 415.98 L248.35 416.79 L247.46 417.61 L246.60 418.45 L245.77 419.29 L245.01 420.10 L244.32 420.87 L243.64 421.63 L242.95 422.40 L242.26 423.18 L241.58 423.99 L240.89 424.83 L240.22 425.70 L239.56 426.61 L238.92 427.55 L238.31 428.55 L237.72 429.59 L237.17 430.67 L236.65 431.80 L236.14 432.98 L235.65 434.20 L235.18 435.47 L234.72 436.77 L234.30 438.10 L233.91 439.43 L233.56 440.77 L233.26 442.10 L233.00 443.42 L232.80 444.71 L232.66 445.98 L232.65 447.23 L232.70 448.45 L232.82 449.64 L232.99 450.80 L233.21 451.93 L233.47 453.04 L233.75 454.12 L234.06 455.17 L234.38 456.20 L234.72 457.20 L235.06 458.19 L235.40 459.17 L235.80 460.18 L236.26 461.22 L236.76 462.26 L237.29 463.30 L237.83 464.31 L238.38 465.30 L238.92 466.23 L239.44 467.10 L239.92 467.89 L240.36 468.59 L240.75 469.19 L241.06 469.66 L241.34 469.54 L241.20 468.98 L241.00 468.30 L240.74 467.51 L240.43 466.63 L240.10 465.68 L239.75 464.68 L239.39 463.63 L239.04 462.57 L238.72 461.50 L238.43 460.44 L238.19 459.42 L238.00 458.43 L237.81 457.45 L237.62 456.45 L237.44 455.44 L237.27 454.43 L237.13 453.42 L237.01 452.41 L236.92 451.40 L236.87 450.40 L236.87 449.40 L236.90 448.40 L236.99 447.41 L237.14 446.42 L237.29 445.38 L237.50 444.28 L237.76 443.13 L238.08 441.95 L238.43 440.76 L238.82 439.55 L239.25 438.36 L239.70 437.18 L240.17 436.03 L240.65 434.93 L241.14 433.89 L241.63 432.93 L242.12 432.04 L242.63 431.21 L243.17 430.42 L243.74 429.65 L244.33 428.90 L244.94 428.17 L245.58 427.45 L246.23 426.74 L246.91 426.04 L247.60 425.32 L248.30 424.61 L248.99 423.90 L249.69 423.20 L250.45 422.49 L251.26 421.76 L252.11 421.02 L252.98 420.29 L253.84 419.58 L254.68 418.89 L255.48 418.25 L256.23 417.65 L256.90 417.12 L257.49 416.65 L257.97 416.27 Z" fill="#0A0A0A"/>
<path d="M263.88 404.68 L263.59 405.22 L263.22 405.89 L262.78 406.66 L262.28 407.53 L261.73 408.48 L261.14 409.49 L260.53 410.55 L259.91 411.64 L259.27 412.74 L258.65 413.85 L258.05 414.93 L257.48 415.98 L256.90 417.00 L256.29 418.04 L255.66 419.10 L255.01 420.20 L254.36 421.31 L253.70 422.44 L253.06 423.58 L252.44 424.73 L251.85 425.89 L251.29 427.04 L250.78 428.20 L250.32 429.35 L249.94 430.49 L249.60 431.62 L249.30 432.76 L249.03 433.89 L248.80 435.01 L248.60 436.12 L248.43 437.23 L248.28 438.32 L248.17 439.39 L248.07 440.45 L248.00 441.48 L247.95 442.50 L247.93 443.51 L247.94 444.52 L247.97 445.53 L248.03 446.51 L248.12 447.49 L248.24 448.44 L248.37 449.37 L248.53 450.28 L248.70 451.16 L248.90 452.02 L249.10 452.83 L249.33 453.63 L249.62 454.41 L249.96 455.17 L250.34 455.91 L250.75 456.62 L251.17 457.30 L251.60 457.94 L252.02 458.53 L252.43 459.08 L252.80 459.57 L253.14 460.00 L253.43 460.37 L253.67 460.67 L253.93 460.53 L253.80 460.16 L253.61 459.72 L253.38 459.21 L253.11 458.66 L252.82 458.06 L252.51 457.41 L252.21 456.74 L251.92 456.04 L251.64 455.33 L251.41 454.61 L251.21 453.89 L251.07 453.17 L250.93 452.43 L250.81 451.64 L250.70 450.83 L250.61 449.99 L250.53 449.12 L250.48 448.23 L250.44 447.33 L250.43 446.42 L250.45 445.50 L250.49 444.57 L250.55 443.63 L250.65 442.70 L250.77 441.75 L250.91 440.77 L251.07 439.78 L251.25 438.78 L251.46 437.77 L251.69 436.75 L251.95 435.73 L252.23 434.71 L252.55 433.68 L252.89 432.67 L253.27 431.65 L253.68 430.65 L254.11 429.65 L254.60 428.62 L255.14 427.58 L255.72 426.51 L256.34 425.44 L256.98 424.36 L257.64 423.28 L258.32 422.20 L258.99 421.13 L259.65 420.08 L260.30 419.03 L260.92 418.02 L261.56 417.02 L262.22 416.00 L262.90 414.96 L263.59 413.92 L264.28 412.89 L264.96 411.88 L265.61 410.92 L266.23 410.02 L266.80 409.20 L267.31 408.46 L267.76 407.83 L268.12 407.32 Z" fill="#0A0A0A"/>
<circle cx="270.5" cy="394" r="4" fill="#0A0A0A"/><circle cx="275.5" cy="400.5" r="4" fill="#0A0A0A"/>
</svg>
<svg width="734" height="500" viewBox="0 0 734 500" style="position:absolute;left:0;top:0">
<line x1="191.4" y1="55.25" x2="276.5" y2="55.25" stroke="#111" stroke-width="2.2"/>
<text x="188.6" y="59.5" text-anchor="end">Deep galea</text>
<line x1="200.8" y1="109.7" x2="241.5" y2="109.7" stroke="#111" stroke-width="2.2"/>
<text x="199.2" y="113.5" text-anchor="end">Preseptal orbicularis muscle</text>
<line x1="192" y1="173" x2="296.5" y2="173" stroke="#111" stroke-width="2.2"/>
<text x="189.2" y="176.7" text-anchor="end">Orbital septum</text>
<line x1="192" y1="201" x2="286.5" y2="201" stroke="#111" stroke-width="2.2"/>
<text x="188.4" y="205" text-anchor="end">Preseptal space</text>
<line x1="191.5" y1="295.5" x2="296" y2="295.5" stroke="#111" stroke-width="2.2"/>
<text x="188.6" y="299.5" text-anchor="end">Tarsal plate</text>
<line x1="202.7" y1="344" x2="263.5" y2="344" stroke="#111" stroke-width="2.2"/>
<text x="199.6" y="347.3" text-anchor="end">Pretarsal orbicularis muscle</text>
<line x1="376" y1="69.3" x2="546.5" y2="69.3" stroke="#111" stroke-width="2.2"/>
<text x="549.2" y="74.6">Preaponeurotic fat pocket</text>
<line x1="464" y1="99.5" x2="546.5" y2="99.5" stroke="#111" stroke-width="2.2"/>
<text x="549.8" y="104.2">Whitnall’s ligament</text>
<line x1="371.5" y1="158.7" x2="546.6" y2="158.7" stroke="#111" stroke-width="2.2"/>
<text x="551.6" y="164.6">Levator aponeurosis:</text>
<line x1="336" y1="212" x2="520.6" y2="212" stroke="#111" stroke-width="2.2"/>
<text x="524.6" y="219.2">Muller’s supratarsal muscle -</text>
<line x1="313" y1="247.2" x2="520.5" y2="247.2" stroke="#111" stroke-width="2.2"/>
<text x="524" y="252.8">Peripheral arterial arcade</text>
<line x1="288.6" y1="396.3" x2="520.3" y2="396.3" stroke="#111" stroke-width="2.2"/>
<text x="523.6" y="401.1">Marginal arterial arcade</text>
</svg>
</body></html>
